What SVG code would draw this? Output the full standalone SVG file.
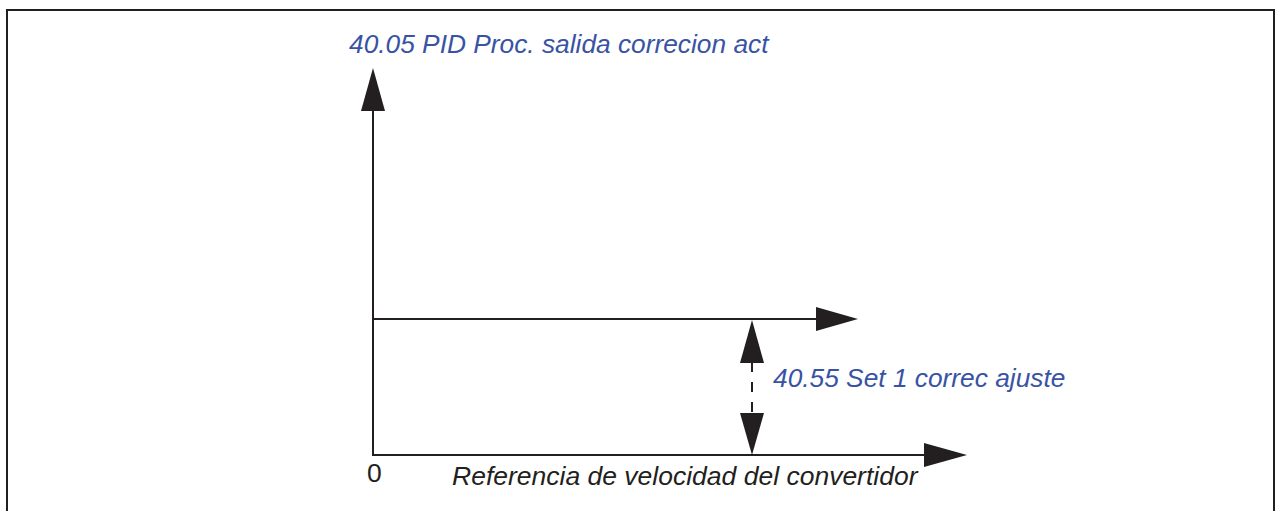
<svg xmlns="http://www.w3.org/2000/svg" width="1277" height="511" viewBox="0 0 1277 511">
<style>
.ln{stroke:#231f20;stroke-width:2;fill:none}
.ah{fill:#231f20;stroke:none}
.bl{font-family:"Liberation Sans",Arial,sans-serif;font-size:26.3px;font-style:italic;fill:#3953a4}
.bk{font-family:"Liberation Sans",Arial,sans-serif;font-size:26.5px;fill:#231f20}
</style>
<rect x="7" y="10" width="1267" height="520" class="ln"/>
<g id="connectors">
<line x1="373" y1="456" x2="373" y2="108" class="ln"/>
<polygon points="373,68 361,111 385,111" class="ah"/>
<line x1="373" y1="455" x2="926" y2="455" class="ln"/>
<polygon points="967,455 924,443 924,467" class="ah"/>
<line x1="373" y1="319" x2="818" y2="319" class="ln"/>
<polygon points="858,319 816,307 816,331" class="ah"/>
<line x1="752" y1="362" x2="752" y2="414" class="ln" stroke-width="2.5" stroke-dasharray="10,10"/>
<polygon points="752,320 740,363 764,363" class="ah"/>
<polygon points="752,455 740,413 764,413" class="ah"/>
</g>
<g id="label-y"><text x="349" y="53" class="bl">40.05 PID Proc. salida correcion act</text></g>
<g id="label-offset"><text x="773" y="387" class="bl">40.55 Set 1 correc ajuste</text></g>
<g id="label-zero"><text x="367" y="482" class="bk">0</text></g>
<g id="label-x"><text x="452" y="485" class="bk" font-style="italic">Referencia de velocidad del convertidor</text></g>
</svg>
